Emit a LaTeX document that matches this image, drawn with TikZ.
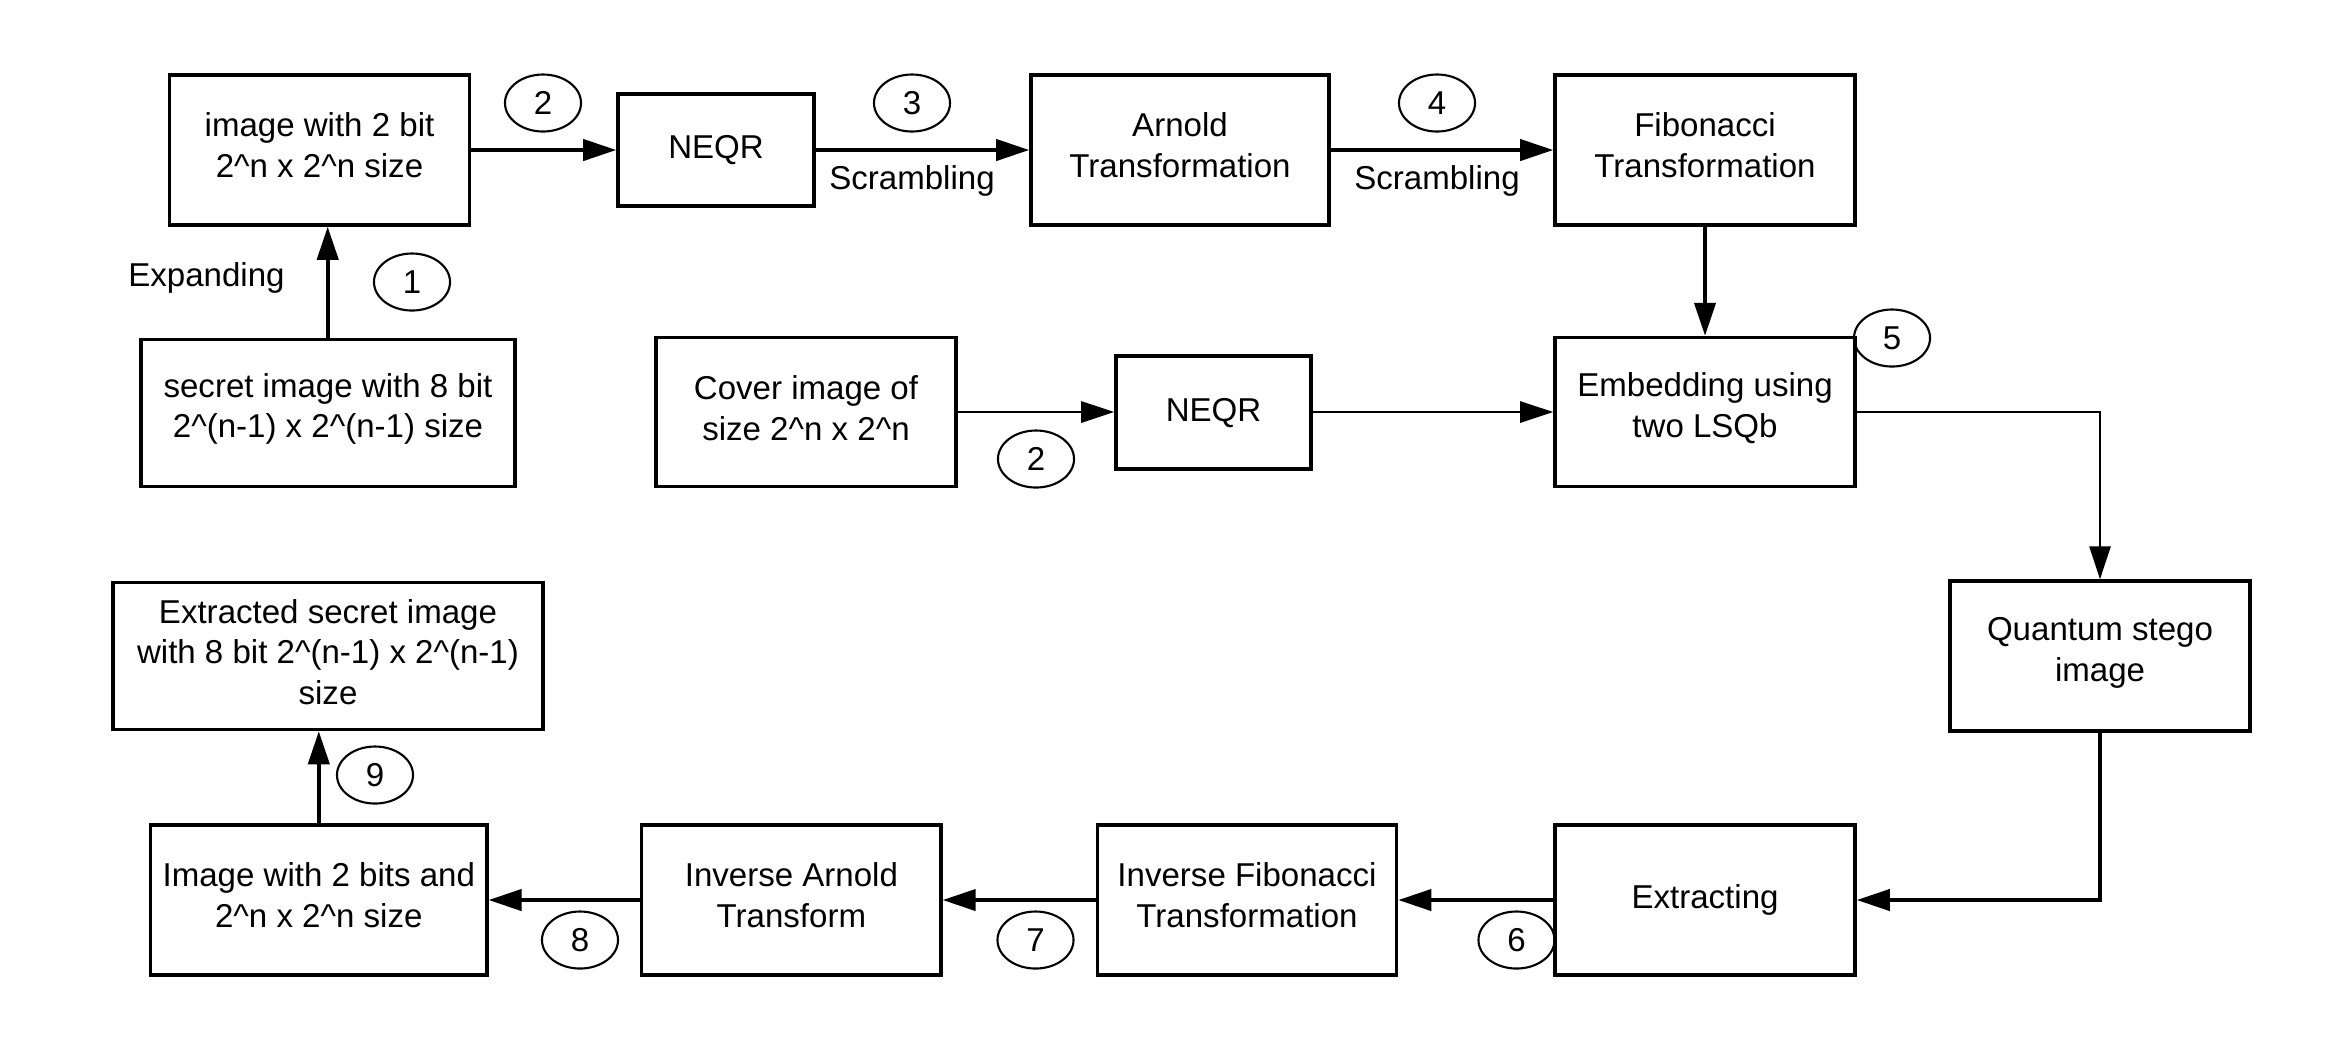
\documentclass[tikz,border=0pt]{standalone}
\usepackage{fontspec}
\setmainfont{Liberation Sans}
\usetikzlibrary{arrows.meta,shapes.geometric,calc}
\begin{document}
\begin{tikzpicture}[x=0.01cm,y=-0.01cm,
  font=\fontsize{9.4}{11.6}\selectfont,
  box/.style={draw,line width=0.95pt,inner sep=0pt},
  txt/.style={align=center,inner sep=0pt},
  num/.style={draw,ellipse,line width=0.6pt,minimum width=0.76cm,minimum height=0.57cm,inner sep=0pt},
  conn/.style={line width=1.1pt,-{Triangle[length=9.4pt,width=6pt]}},
  thin conn/.style={line width=0.78pt,-{Triangle[length=9.4pt,width=6pt]}},
  lbl/.style={anchor=base,inner sep=0pt}]
\useasboundingbox (0,0) rectangle (2325,1050);
% boxes
\node[box,minimum width=3.0cm,minimum height=1.5cm] (A) at (319.5,150) {};
\node[box,minimum width=1.96cm,minimum height=1.12cm] (N1) at (716,150) {NEQR};
\node[box,minimum width=2.98cm,minimum height=1.5cm] (AR) at (1180,150) {};
\node[box,minimum width=3.0cm,minimum height=1.5cm] (FB) at (1705,150) {};
\node[box,minimum width=3.74cm,minimum height=1.47cm] (S) at (328,413) {};
\node[box,minimum width=3.0cm,minimum height=1.49cm] (C) at (806,412) {};
\node[box,minimum width=1.95cm,minimum height=1.13cm] (N2) at (1213.5,412.6) {NEQR};
\node[box,minimum width=3.0cm,minimum height=1.49cm] (E) at (1705,412) {};
\node[box,minimum width=3.0cm,minimum height=1.5cm] (Q) at (2100,656) {};
\node[box,minimum width=4.3cm,minimum height=1.47cm] (X) at (328,656) {};
\node[box,minimum width=3.36cm,minimum height=1.5cm] (I2) at (318.8,900) {};
\node[box,minimum width=2.99cm,minimum height=1.5cm] (IA) at (791.4,900) {};
\node[box,minimum width=2.99cm,minimum height=1.5cm] (IF) at (1247,900) {};
\node[box,minimum width=3.0cm,minimum height=1.5cm] (EX) at (1705,900) {Extracting};
% box texts
\node[txt] (At) at ([yshift=0.05cm]A.center) {image with 2 bit\\2\textasciicircum n x 2\textasciicircum n size};
\node[txt] (ARt) at ([yshift=0.05cm]AR.center) {Arnold\\Transformation};
\node[txt] (FBt) at ([yshift=0.05cm]FB.center) {Fibonacci\\Transformation};
\node[txt] (St) at ([yshift=0.04cm]S.center) {secret image with 8 bit\\2\textasciicircum(n-1) x 2\textasciicircum(n-1) size};
\node[txt] (Ct) at ([yshift=0.04cm]C.center) {Cover image of\\size 2\textasciicircum n x 2\textasciicircum n};
\node[txt] (Et) at ([yshift=0.04cm]E.center) {Embedding using\\two LSQb};
\node[txt] (Qt) at ([yshift=0.03cm]Q.center) {Quantum stego\\image};
\node[txt] (Xt) at ([yshift=0.04cm]X.center) {Extracted secret image\\with 8 bit 2\textasciicircum(n-1) x 2\textasciicircum(n-1)\\size};
\node[txt] (I2t) at ([yshift=0.05cm]I2.center) {Image with 2 bits and\\2\textasciicircum n x 2\textasciicircum n size};
\node[txt] (IAt) at ([yshift=0.05cm]IA.center) {Inverse Arnold\\Transform};
\node[txt] (IFt) at ([yshift=0.05cm]IF.center) {Inverse Fibonacci\\Transformation};
% connectors
\draw[conn] (S.north -| 327.7,0) -- (A.south -| 327.7,0);
\draw[conn] (A) -- (N1);
\draw[conn] (N1) -- (AR);
\draw[conn] (AR) -- (FB);
\draw[conn] (FB) -- (E);
\draw[thin conn] (C.east |- 0,412) -- (N2.west |- 0,412);
\draw[thin conn] (N2.east |- 0,412) -- (E.west |- 0,412);
\draw[thin conn] (E.east) -| (Q.north);
\draw[conn] (Q.south) |- (EX.east);
\draw[conn] (EX) -- (IF);
\draw[conn] (IF) -- (IA);
\draw[conn] (IA) -- (I2);
\draw[conn] (I2.north) -- (I2.north |- X.south);
% labels
\node[lbl] (l1) at (912,189) {Scrambling};
\node[lbl] (l2) at (1437,189) {Scrambling};
\node[lbl] (l3) at (206.5,286) {Expanding};
% numbered ellipses
\node[num] (c1) at (412,282) {1};
\node[num] (c2a) at (543,103) {2};
\node[num] (c3) at (912,103) {3};
\node[num] (c4) at (1437,103) {4};
\node[num] (c2b) at (1036,459) {2};
\node[num] (c5) at (1892,338) {5};
\node[num] (c6) at (1516.5,940) {6};
\node[num] (c7) at (1035.5,940) {7};
\node[num] (c8) at (580,940) {8};
\node[num] (c9) at (375,775) {9};
\end{tikzpicture}
\end{document}
